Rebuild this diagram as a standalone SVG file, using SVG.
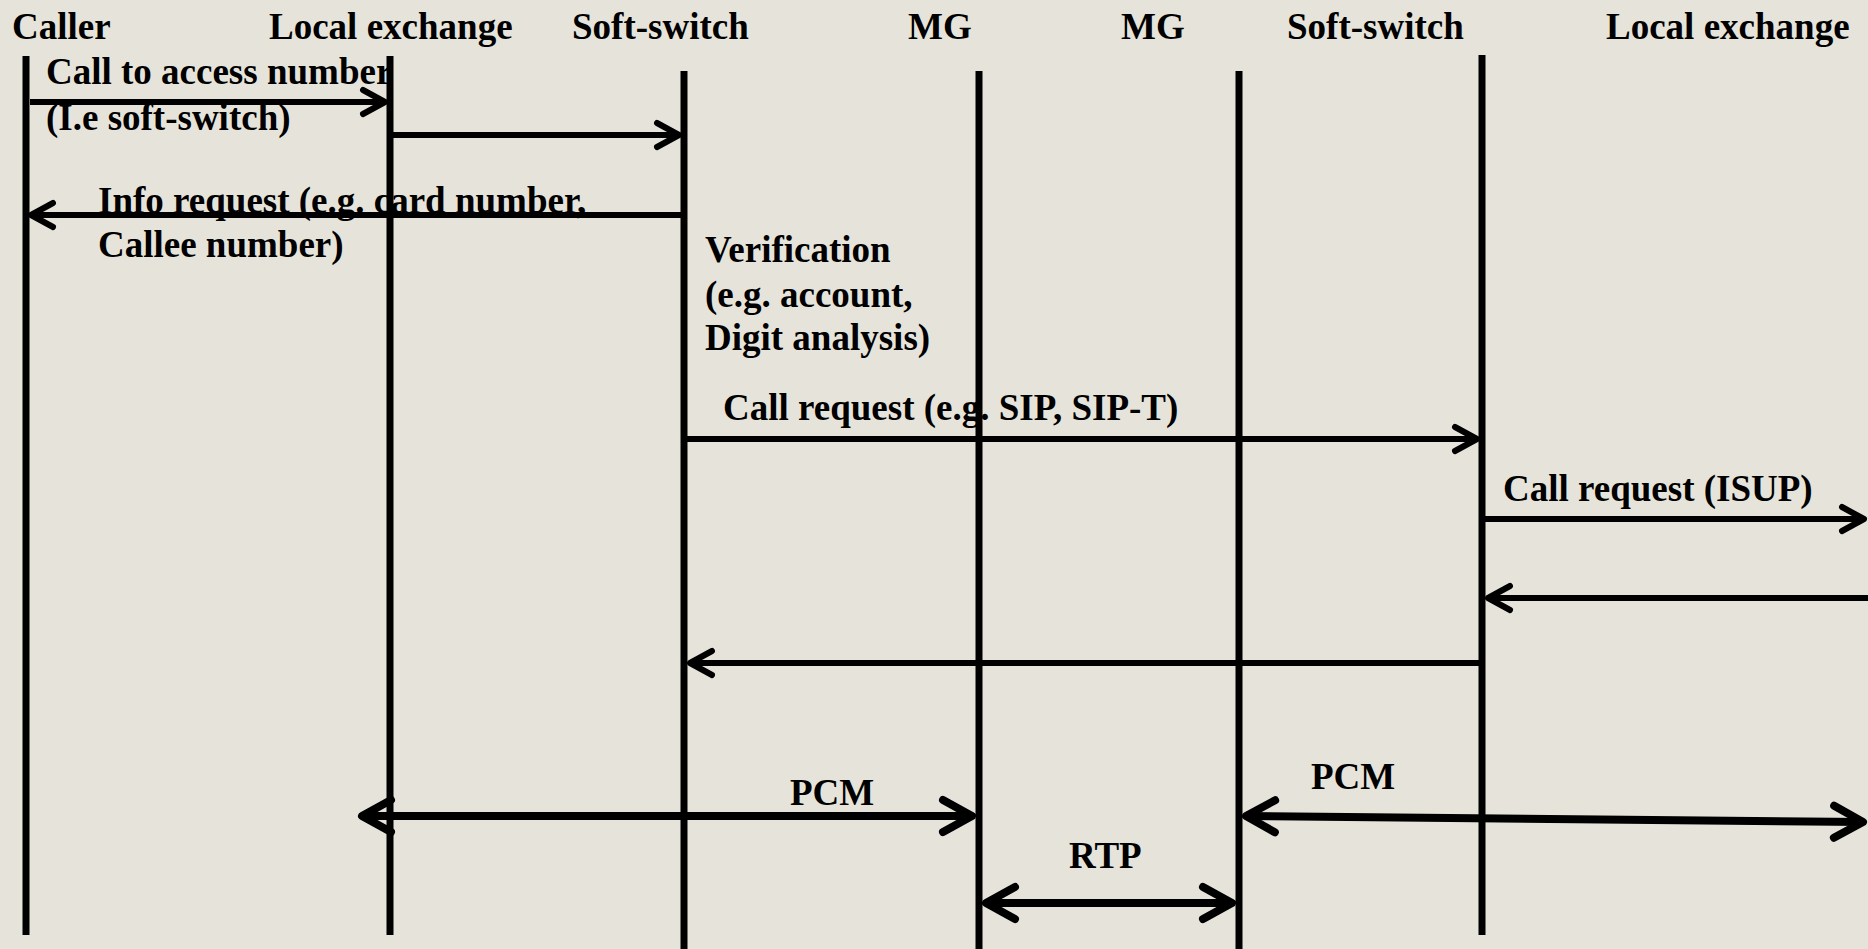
<svg xmlns="http://www.w3.org/2000/svg" width="1868" height="949" viewBox="0 0 1868 949">
<style>
text{font-family:"Liberation Serif","Times New Roman",serif;font-weight:bold;font-size:37px;fill:#000}
.hdr{font-size:37px}
.life{stroke:#000;stroke-width:7;fill:none}
.msg{stroke:#000;stroke-width:6;fill:none}
.big{stroke:#000;stroke-width:8;fill:none}
</style>
<defs>
<marker id="ah" markerUnits="userSpaceOnUse" orient="auto-start-reverse" overflow="visible" markerWidth="1" markerHeight="1" refX="0" refY="0">
<path d="M-22,-12 L0,0 L-22,12" fill="none" stroke="#000" stroke-width="6" stroke-linecap="round" stroke-linejoin="round"/>
</marker>
<marker id="ahb" markerUnits="userSpaceOnUse" orient="auto-start-reverse" overflow="visible" markerWidth="1" markerHeight="1" refX="0" refY="0">
<path d="M-29,-16 L0,0 L-29,16" fill="none" stroke="#000" stroke-width="8" stroke-linecap="round" stroke-linejoin="round"/>
</marker>
</defs>
<rect width="1868" height="949" fill="#E6E4DA"/>
<g id="caller">
<text class="hdr" x="12" y="39">Caller</text>
<line class="life" x1="26" y1="56" x2="26" y2="935"/>
</g>
<g id="local-exchange-1">
<text class="hdr" x="269" y="39">Local exchange</text>
<line class="life" x1="390" y1="56" x2="390" y2="935"/>
</g>
<g id="soft-switch-1">
<text class="hdr" x="572" y="39">Soft-switch</text>
<line class="life" x1="684" y1="71" x2="684" y2="949"/>
</g>
<g id="mg-1">
<text class="hdr" x="908" y="39">MG</text>
<line class="life" x1="979" y1="71" x2="979" y2="949"/>
</g>
<g id="mg-2">
<text class="hdr" x="1121" y="39">MG</text>
<line class="life" x1="1239" y1="71" x2="1239" y2="949"/>
</g>
<g id="soft-switch-2">
<text class="hdr" x="1287" y="39">Soft-switch</text>
<line class="life" x1="1482" y1="55" x2="1482" y2="935"/>
</g>
<g id="local-exchange-2">
<text class="hdr" x="1606" y="39">Local exchange</text>
</g>
<g id="verification">
<text x="705" y="262">Verification</text>
<text x="705" y="307">(e.g. account,</text>
<text x="705" y="350">Digit analysis)</text>
</g>
<g id="connectors">
<line class="msg" x1="30" y1="102" x2="385" y2="102" marker-end="url(#ah)"/>
<text x="46" y="84">Call to access number</text>
<text x="46" y="130">(I.e soft-switch)</text>
<line class="msg" x1="393" y1="135" x2="679" y2="135" marker-end="url(#ah)"/>
<line class="msg" x1="681" y1="215" x2="31" y2="215" marker-end="url(#ah)"/>
<text x="98" y="213">Info request (e.g. card number,</text>
<text x="98" y="257">Callee number)</text>
<line class="msg" x1="687" y1="439" x2="1477" y2="439" marker-end="url(#ah)"/>
<text x="723" y="420">Call request (e.g. SIP, SIP-T)</text>
<line class="msg" x1="1485" y1="519" x2="1864" y2="519" marker-end="url(#ah)"/>
<text x="1503" y="501">Call request (ISUP)</text>
<line class="msg" x1="1868" y1="598" x2="1488" y2="598" marker-end="url(#ah)"/>
<line class="msg" x1="1479" y1="663" x2="690" y2="663" marker-end="url(#ah)"/>
<line class="big" x1="362" y1="816" x2="972" y2="816" marker-start="url(#ahb)" marker-end="url(#ahb)"/>
<text x="790" y="805">PCM</text>
<line class="big" x1="1246" y1="816" x2="1863" y2="822" marker-start="url(#ahb)" marker-end="url(#ahb)"/>
<text x="1311" y="789">PCM</text>
<line class="big" x1="986" y1="903" x2="1232" y2="903" marker-start="url(#ahb)" marker-end="url(#ahb)"/>
<text x="1069" y="868">RTP</text>
</g>
</svg>
